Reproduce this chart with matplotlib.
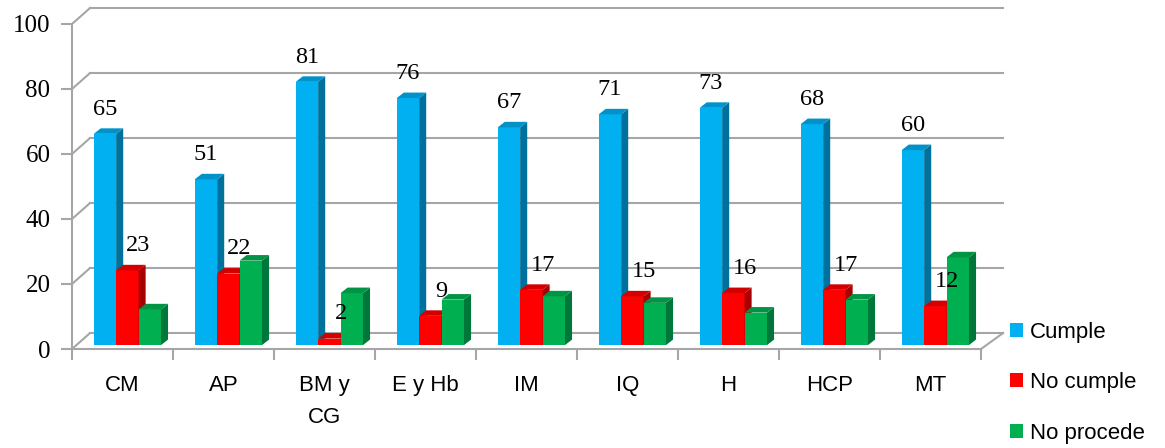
import numpy as np
import matplotlib
matplotlib.use("Agg")
from matplotlib import pyplot as plt
from matplotlib.patches import Polygon, Patch

# data
categories = ["CM", "AP", "BM y\nCG", "E y Hb", "IM", "IQ", "H", "HCP", "MT"]
cumple = [65, 51, 81, 76, 67, 71, 73, 68, 60]
no_cumple = [23, 22, 2, 9, 17, 15, 16, 17, 12]
no_procede = [11, 26, 16, 14, 15, 13, 10, 14, 27]
series_names = ["Cumple", "No cumple", "No procede"]

# face, side, top colours per series
colors = [("#00B0F0", "#00709C", "#0092C8"),
          ("#FF0000", "#A80000", "#D20000"),
          ("#00B050", "#00773A", "#009444")]

fig = plt.figure(figsize=(11.65, 4.48), dpi=100)
ax = fig.add_axes([72 / 1165, 1 - 349 / 448, 909 / 1165, 325 / 448])
ax.set_xlim(0, 9)
ax.set_ylim(0, 100)

grid_col = "#A6A6A6"
wdx, wdy = 0.178, 4.9   # depth of the back wall
for g in range(0, 101, 20):
    ax.plot([0, wdx], [g, g + wdy], color=grid_col, lw=1.5, clip_on=False, zorder=1)
    ax.plot([wdx, 9 + wdx + 0.04], [g + wdy, g + wdy], color=grid_col, lw=1.5, clip_on=False, zorder=1)
ax.plot([9, 9 + wdx + 0.04], [0, wdy], color=grid_col, lw=1.5, clip_on=False, zorder=1)

# 3D-looking bars, standing slightly behind the front edge of the floor
w = 0.222
offsets = [0.215, 0.437, 0.659]
base = 1.2
bdx, bdy = 0.07, 1.7
for i in range(len(categories)):
    for s, vals in enumerate([cumple, no_cumple, no_procede]):
        v = vals[i]
        x0 = i + offsets[s]
        top_y = base + v
        face, side, top = colors[s]
        z = 3 + i * 3 + s
        ax.bar(x0, v, width=w, bottom=base, align="edge", color=face, zorder=z)
        ax.add_patch(Polygon([(x0 + w, base), (x0 + w + bdx, base + bdy),
                              (x0 + w + bdx, top_y + bdy), (x0 + w, top_y)],
                             closed=True, facecolor=side, edgecolor="none", zorder=z))
        ax.add_patch(Polygon([(x0, top_y), (x0 + w, top_y), (x0 + w + bdx, top_y + bdy),
                              (x0 + bdx, top_y + bdy)],
                             closed=True, facecolor=top, edgecolor="none", zorder=z))
    ax.text(i + offsets[0] + w / 2, cumple[i] + 5.6, str(cumple[i]), ha="center", va="bottom",
            family="Liberation Serif", fontsize=17.5, zorder=50)
    ax.text(i + offsets[1] + w, no_cumple[i] + 5.6, str(no_cumple[i]), ha="center", va="bottom",
            family="Liberation Serif", fontsize=17.5, zorder=50)

for sp in ["top", "right"]:
    ax.spines[sp].set_visible(False)
ax.spines["left"].set_color(grid_col)
ax.spines["bottom"].set_color(grid_col)
ax.spines["left"].set_linewidth(1.5)
ax.spines["bottom"].set_linewidth(1.5)

ax.set_yticks(range(0, 101, 20))
ax.set_yticklabels([str(t) for t in range(0, 101, 20)], family="Liberation Serif", fontsize=18)
ax.tick_params(axis="y", length=8, width=1.5, color=grid_col, pad=7.5)

ax.set_xticks(np.arange(0, 10))
ax.set_xticklabels([])
ax.tick_params(axis="x", which="major", length=8, width=1.5, color=grid_col)
ax.set_xticks(np.arange(9) + 0.5, minor=True)
ax.set_xticklabels(categories, minor=True, family="Liberation Sans", fontsize=16, va="top",
                   linespacing=1.7)
ax.tick_params(axis="x", which="minor", length=0, pad=18.5)

handles = [Patch(facecolor=c[0], label=n) for c, n in zip(colors, series_names)]
fig.legend(handles=handles, loc="upper left", bbox_to_anchor=(1001 / 1165, 1 - 313 / 448),
           frameon=False, prop={"family": "Liberation Sans", "size": 16},
           handlelength=0.6, handleheight=0.6, handletextpad=0.32, labelspacing=1.32,
           borderaxespad=0)

fig.savefig("out.png", dpi=100)
